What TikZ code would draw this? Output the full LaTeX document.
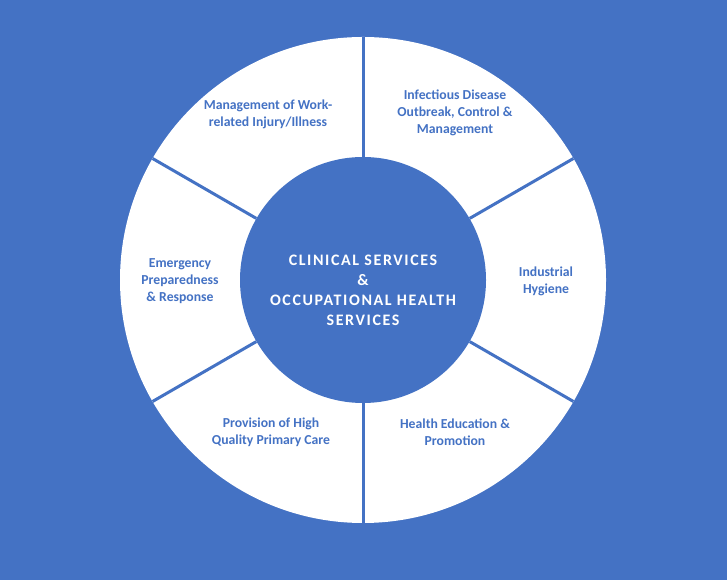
\documentclass[tikz,border=0pt]{standalone}
\usepackage{fontspec}
\setmainfont{Carlito}
\newfontfamily\hubfont[LetterSpace=10]{Carlito}
\usetikzlibrary{calc}
\definecolor{officeblue}{HTML}{4472C4}
\begin{document}
\begin{tikzpicture}[x=1pt,y=1pt]
		\tikzstyle{area}=[text=officeblue,font=\bfseries\fontsize{13.7}{17}\selectfont,align=center,inner sep=0pt]
		\tikzstyle{divider}=[officeblue,line width=3pt]
		\useasboundingbox (0,0) rectangle (727,580);
		\fill[officeblue] (0,0) rectangle (727,580);
		\fill[white] (363,300) circle (243);
		\node[circle,fill=officeblue,minimum size=246pt,inner sep=0pt](hub)at(363,300){};
		\node[text=white,font=\hubfont\bfseries\fontsize{16}{20}\selectfont,align=center](hubtext)at(363,290){CLINICAL SERVICES\\\&\\OCCUPATIONAL HEALTH\\SERVICES};
		\draw[divider]{
			(hub.90) -- ($(hub.center)+(90:243)$)
		};
		\draw[divider]{
			(hub.30) -- ($(hub.center)+(30:243)$)
		};
		\draw[divider]{
			(hub.-30) -- ($(hub.center)+(-30:243)$)
		};
		\draw[divider]{
			(hub.-90) -- ($(hub.center)+(-90:243)$)
		};
		\draw[divider]{
			(hub.-150) -- ($(hub.center)+(-150:243)$)
		};
		\draw[divider]{
			(hub.150) -- ($(hub.center)+(150:243)$)
		};
		\node[area](infection)at(455,467){Infectious Disease\\Outbreak, Control \&\\Management};
		\node[area](hygiene)at(546,299){Industrial\\Hygiene};
		\node[area](education)at(455,148){Health Education \&\\Promotion};
		\node[area](primary)at(271,148){Provision of High\\Quality Primary Care};
		\node[area](emergency)at(180,299){Emergency\\Preparedness\\\& Response};
		\node[area](injury)at(268,466){Management of Work-\\related Injury/Illness};
		\end{tikzpicture}
\end{document}
